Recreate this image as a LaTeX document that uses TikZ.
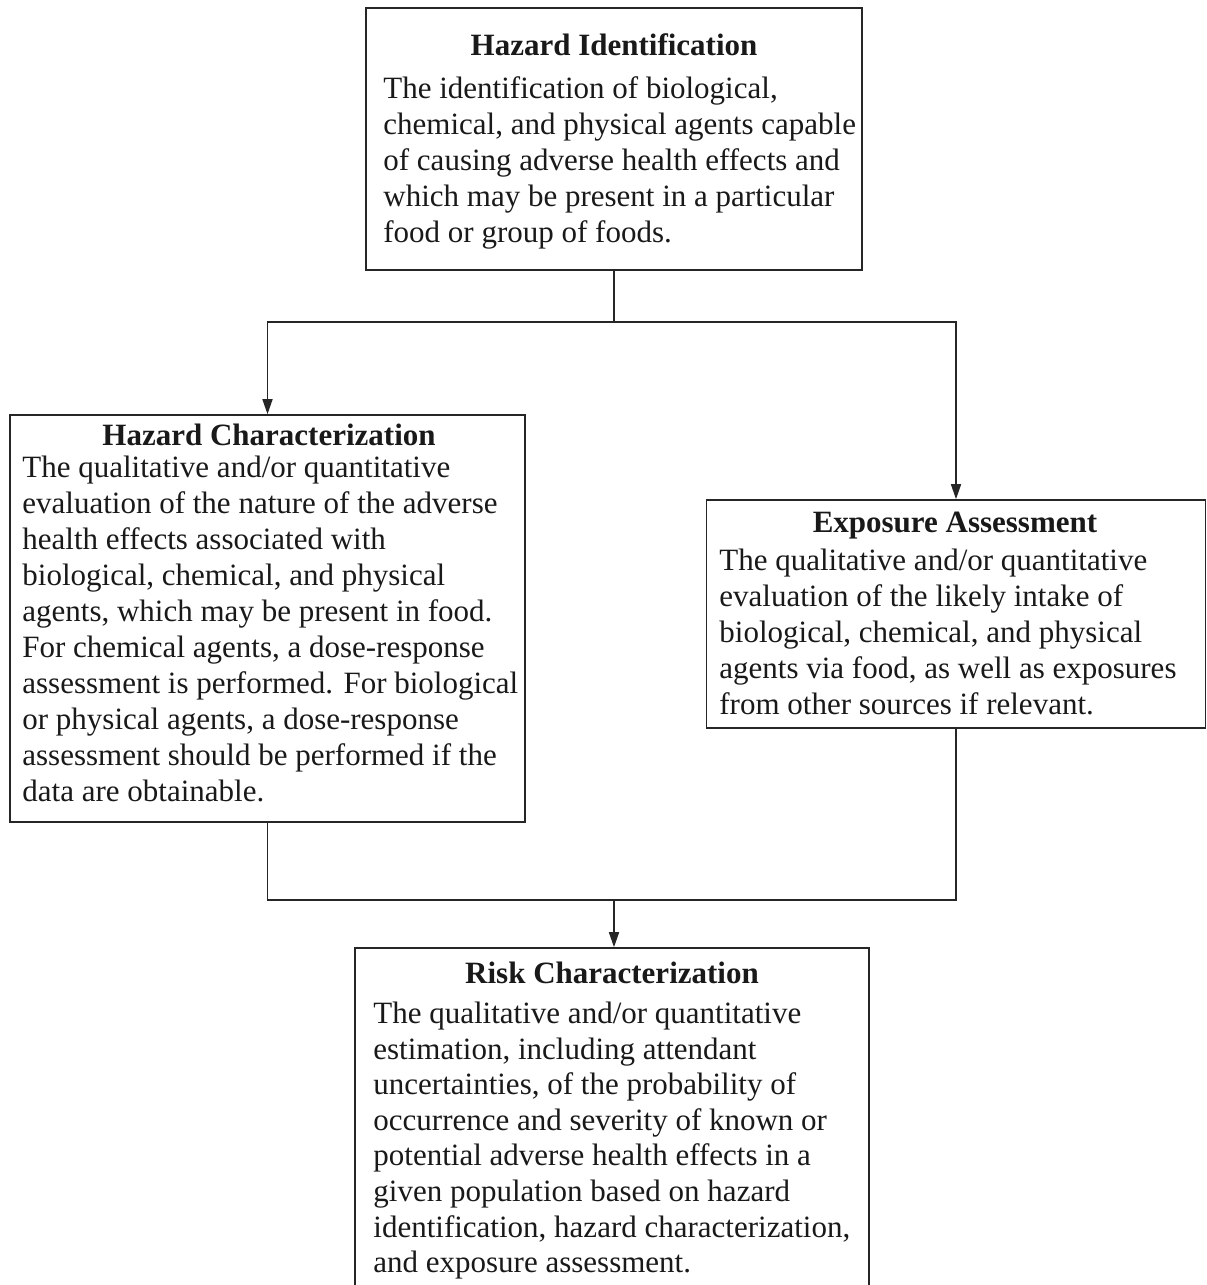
\documentclass[tikz,border=0pt]{standalone}
\usepackage{fontspec}
\setmainfont{Liberation Serif}
\usetikzlibrary{arrows.meta}
\begin{document}
\begin{tikzpicture}[x=0.5pt,y=-0.5pt,
  box/.style={draw=black!85, line width=0.8pt, inner sep=0pt, rectangle},
  ttl/.style={font=\fontsize{15.5}{18}\selectfont\bfseries, text=black!90, anchor=base, inner sep=0pt},
  body/.style={font=\fontsize{15.5}{18}\selectfont, text=black!90, align=left, anchor=north west, inner sep=0pt},
  bodyrc/.style={body, font=\fontsize{15.5}{17.8}\selectfont},
  link/.style={draw=black!85, line width=0.8pt},
  arr/.style={link, -{Triangle[length=7.5pt,width=5pt]}}]
\useasboundingbox (0,0) rectangle (1206,1285);
\clip (0,0) rectangle (1206,1285);

% boxes
\node[box, minimum width=248pt, minimum height=131pt] (hi) at (614,139) {};
\node[box, minimum width=257.5pt, minimum height=203.5pt] (hc) at (267.5,618.5) {};
\node[box, minimum width=249.5pt, minimum height=114pt] (ea) at (956,614) {};
\node[box, minimum width=257pt, minimum height=176pt] (rc) at (612,1124) {};

% titles
\node[ttl] (hit) at (614,55) {Hazard Identification};
\node[ttl] (hct) at (269,445) {Hazard Characterization};
\node[ttl] (eat) at (955,532) {Exposure Assessment};
\node[ttl] (rct) at (612,983) {Risk Characterization};

% bodies
\node[body] (hib) at (383,74) {\rule{0pt}{12pt}The identification of biological,\\
chemical, and physical agents capable\\
of causing adverse health effects and\\
which may be present in a particular\\
food or group of foods.};

\node[body] (hcb) at (22,453) {\rule{0pt}{12pt}The qualitative and/or quantitative\\
evaluation of the nature of the adverse\\
health effects associated with\\
biological, chemical, and physical\\
agents, which may be present in food.\\
For chemical agents, a dose-response\\
assessment is performed. For biological\\
or physical agents, a dose-response\\
assessment should be performed if the\\
data are obtainable.};

\node[body] (eab) at (719,546) {\rule{0pt}{12pt}The qualitative and/or quantitative\\
evaluation of the likely intake of\\
biological, chemical, and physical\\
agents via food, as well as exposures\\
from other sources if relevant.};

\node[bodyrc] (rcb) at (373,999) {\rule{0pt}{12pt}The qualitative and/or quantitative\\
estimation, including attendant\\
uncertainties, of the probability of\\
occurrence and severity of known or\\
potential adverse health effects in a\\
given population based on hazard\\
identification, hazard characterization,\\
and exposure assessment.};

% connectors
\coordinate (j1) at (614,322);
\coordinate (j2) at (614,900);
\draw[link] (hi.south) -- (j1);
\draw[arr] (j1) -| (hc.north);
\draw[arr] (j1) -| (ea.north);
\draw[link] (hc.south) |- (j2);
\draw[link] (j2) -| (ea.south);
\draw[arr] (j2) -- (j2 |- rc.north);
\end{tikzpicture}
\end{document}
